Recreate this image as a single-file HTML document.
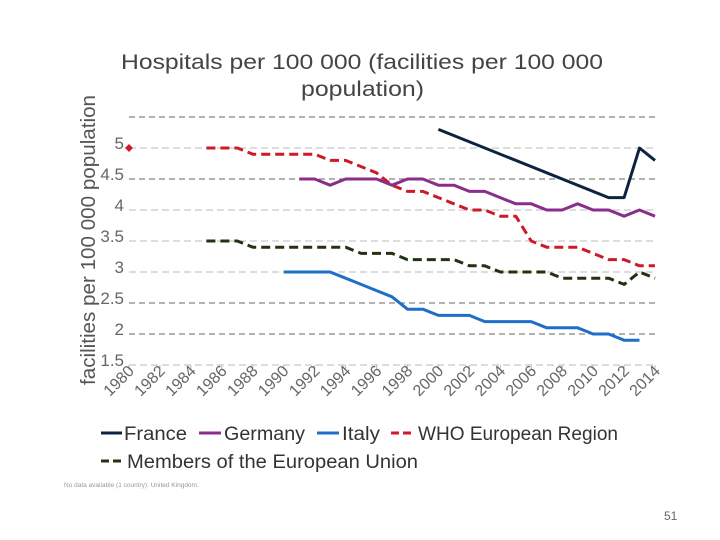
<!DOCTYPE html>
<html><head><meta charset="utf-8"><style>
html,body{margin:0;padding:0;background:#fff;}
svg{display:block;font-family:"Liberation Sans","DejaVu Sans",sans-serif;}
</style></head><body>
<svg id="chart" width="720" height="540" viewBox="0 0 720 540">
<text x="121" y="69" font-size="21" fill="#444" textLength="482" lengthAdjust="spacingAndGlyphs">Hospitals per 100 000 (facilities per 100 000</text>
<text x="301" y="96" font-size="21" fill="#444" textLength="123" lengthAdjust="spacingAndGlyphs">population)</text>
<text transform="translate(95,385) rotate(-90)" font-size="20" fill="#555" textLength="290" lengthAdjust="spacingAndGlyphs">facilities per 100 000 population</text>
<g id="grid"></g><g id="yticks"></g><g id="xticks"></g><g id="series"></g>
<g id="legend" font-size="19" fill="#333">
<line x1="101" y1="433" x2="122" y2="433" stroke="#0d2340" stroke-width="3"/>
<text x="124" y="440" textLength="63" lengthAdjust="spacingAndGlyphs">France</text>
<line x1="199" y1="433" x2="221" y2="433" stroke="#8b2e8b" stroke-width="3"/>
<text x="224" y="440" textLength="81" lengthAdjust="spacingAndGlyphs">Germany</text>
<line x1="317" y1="433" x2="339" y2="433" stroke="#1f6fc8" stroke-width="3"/>
<text x="342" y="440" textLength="38" lengthAdjust="spacingAndGlyphs">Italy</text>
<line x1="391" y1="433" x2="414" y2="433" stroke="#cc1a2a" stroke-width="3" stroke-dasharray="8,4"/>
<text x="418" y="440" textLength="200" lengthAdjust="spacingAndGlyphs">WHO European Region</text>
<line x1="101" y1="461" x2="123" y2="461" stroke="#223311" stroke-width="3" stroke-dasharray="8,4"/>
<text x="127" y="468" textLength="291" lengthAdjust="spacingAndGlyphs">Members of the European Union</text>
</g>
<text x="64" y="487" font-size="6.5" fill="#999">No data available (1 country): United Kingdom.</text>
<text x="664" y="520" font-size="12" fill="#666">51</text>
</svg>
<script>
const years=[];for(let y=1980;y<=2014;y++)years.push(y);
const yTicks=[1.5,2,2.5,3,3.5,4,4.5,5];
const xTickLabels=[1980,1982,1984,1986,1988,1990,1992,1994,1996,1998,2000,2002,2004,2006,2008,2010,2012,2014];
const franceYears=[2000,2011,2012,2013,2014];
const franceVals=[5.3,4.2,4.2,5.0,4.8];
const germanyYears=[1991,1992,1993,1994,1995,1996,1997,1998,1999,2000,2001,2002,2003,2004,2005,2006,2007,2008,2009,2010,2011,2012,2013,2014];
const germanyVals=[4.5,4.5,4.4,4.5,4.5,4.5,4.4,4.5,4.5,4.4,4.4,4.3,4.3,4.2,4.1,4.1,4.0,4.0,4.1,4.0,4.0,3.9,4.0,3.9];
const italyYears=[1990,1991,1992,1993,1994,1995,1996,1997,1998,1999,2000,2001,2002,2003,2004,2005,2006,2007,2008,2009,2010,2011,2012,2013];
const italyVals=[3.0,3.0,3.0,3.0,2.9,2.8,2.7,2.6,2.4,2.4,2.3,2.3,2.3,2.2,2.2,2.2,2.2,2.1,2.1,2.1,2.0,2.0,1.9,1.9];
const whoYears=[1985,1986,1987,1988,1989,1990,1991,1992,1993,1994,1995,1996,1997,1998,1999,2000,2001,2002,2003,2004,2005,2006,2007,2008,2009,2010,2011,2012,2013,2014];
const whoVals=[5.0,5.0,5.0,4.9,4.9,4.9,4.9,4.9,4.8,4.8,4.7,4.6,4.4,4.3,4.3,4.2,4.1,4.0,4.0,3.9,3.9,3.5,3.4,3.4,3.4,3.3,3.2,3.2,3.1,3.1];
const whoPointYear=1980, whoPointVal=5.0;
const euYears=[1985,1986,1987,1988,1989,1990,1991,1992,1993,1994,1995,1996,1997,1998,1999,2000,2001,2002,2003,2004,2005,2006,2007,2008,2009,2010,2011,2012,2013,2014];
const euVals=[3.5,3.5,3.5,3.4,3.4,3.4,3.4,3.4,3.4,3.4,3.3,3.3,3.3,3.2,3.2,3.2,3.2,3.1,3.1,3.0,3.0,3.0,3.0,2.9,2.9,2.9,2.9,2.8,3.0,2.9];

const NS="http://www.w3.org/2000/svg";
const xs=y=>129+(y-1980)*(655-129)/34;
const ys=v=>148+(5-v)*62;
function mk(tag,attrs,parent){const e=document.createElementNS(NS,tag);for(const k in attrs)e.setAttribute(k,attrs[k]);document.getElementById(parent).appendChild(e);return e;}
const gridVals=[1.5,2,2.5,3,3.5,4,4.5,5,5.5];
const darkGrid=[2,2.5,4.5,5.5];
gridVals.forEach(v=>{
  const dark=darkGrid.includes(v);
  const l=mk('line',{x1:129,x2:655,y1:ys(v),y2:ys(v),stroke:dark?'#666':'#bbb','stroke-width':1,'stroke-dasharray':dark?'6,4':'7,4'},'grid');
  
  
});
yTicks.forEach(v=>{
  const t=mk('text',{x:124,y:ys(v)+1,'font-size':17,fill:'#666','text-anchor':'end'},'yticks');
  t.textContent=String(v);
  
  
});
xTickLabels.forEach(y=>{
  const tk=mk('line',{x1:xs(y),x2:xs(y),y1:365,y2:370,stroke:'#bbb'},'xticks');
  
  
  const t=mk('text',{x:0,y:0,'font-size':16,fill:'#666','text-anchor':'end',transform:`translate(${xs(y)+6},${372}) rotate(-45)`},'xticks');
  t.textContent=String(y);
  
  
});
function line(yrs,vals,color,dash,name){
  const d=yrs.map((y,i)=>(i?'L':'M')+xs(y).toFixed(1)+','+ys(vals[i]).toFixed(1)).join(' ');
  const attrs={d:d,fill:'none',stroke:color,'stroke-width':3,'stroke-linejoin':'round'};
  if(dash)attrs['stroke-dasharray']=dash;
  const p=mk('path',attrs,'series');
  
  
}
line(euYears,euVals,'#223311','9,5','series-eu');
line(whoYears,whoVals,'#cc1a2a','9,5','series-who');
line(italyYears,italyVals,'#1f6fc8',null,'series-italy');
line(germanyYears,germanyVals,'#8b2e8b',null,'series-germany');
line(franceYears,franceVals,'#0d2340',null,'series-france');
const pt=mk('path',{d:`M${xs(whoPointYear)},${ys(whoPointVal)-4} l4,4 l-4,4 l-4,-4 z`,fill:'#cc1a2a'},'series');


</script>
</body></html>
